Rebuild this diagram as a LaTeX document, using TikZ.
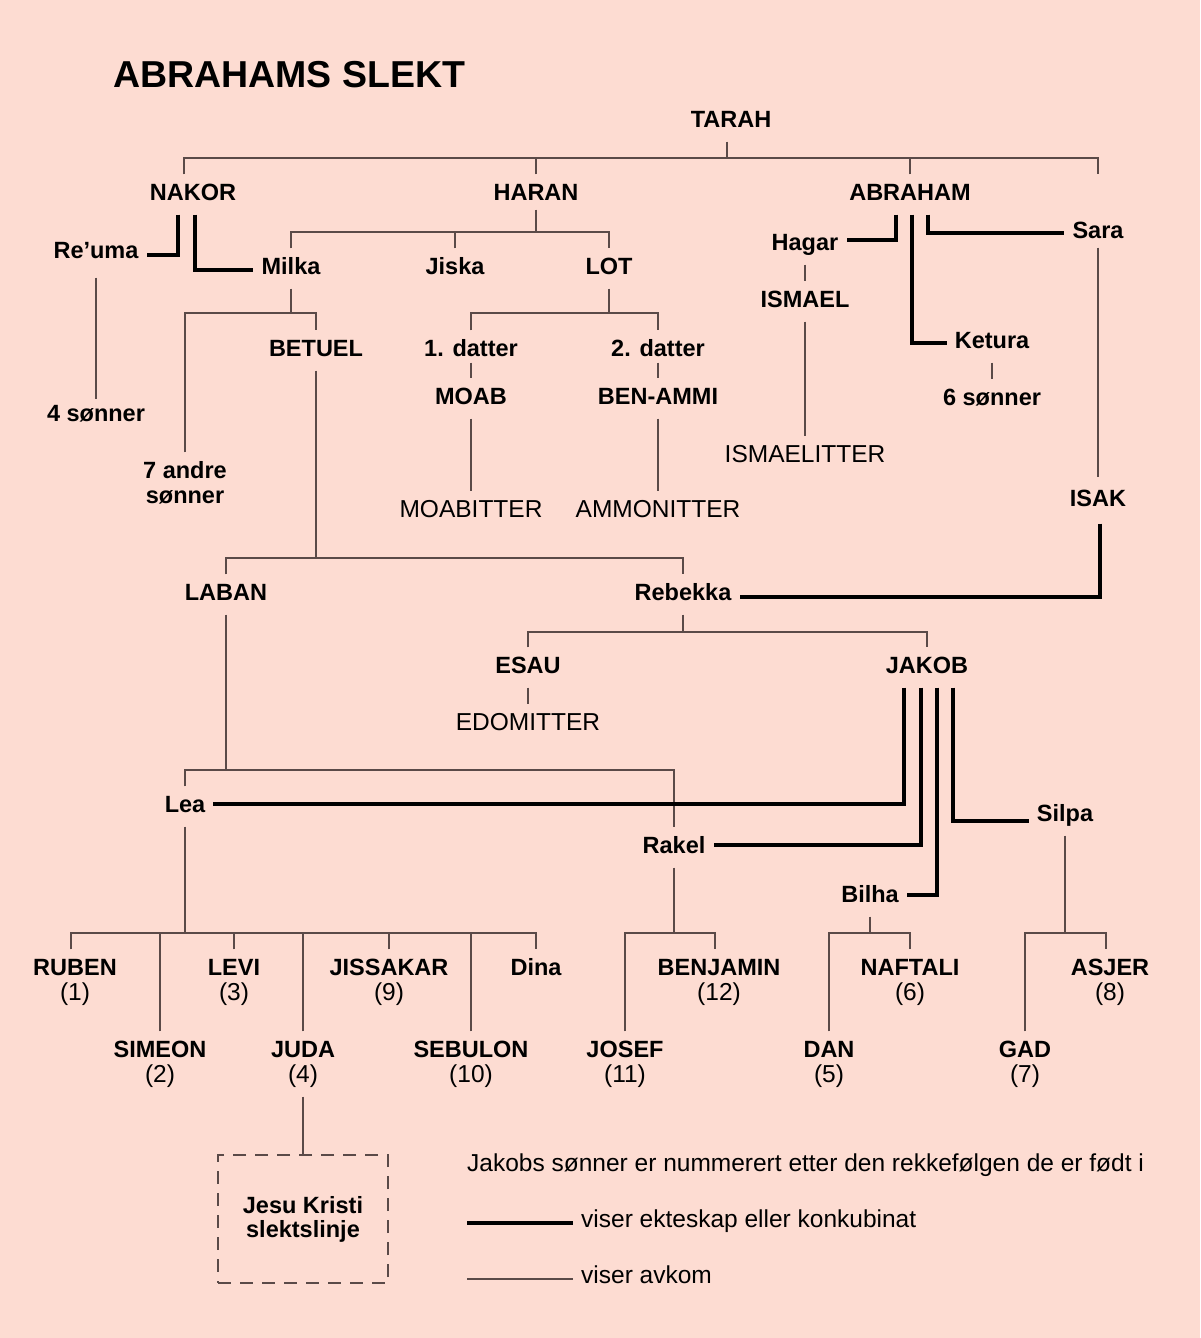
\documentclass[tikz,border=0pt]{standalone}
\usepackage{fontspec}
\setmainfont{Liberation Sans}
\definecolor{bg}{HTML}{FDDCD2}
\definecolor{ln}{HTML}{5A4A48}
\tikzset{
 nm/.style={font=\bfseries\fontsize{23.5}{26}\selectfont, text height=17pt, text depth=6pt, inner xsep=8pt, inner ysep=8.5pt, anchor=base},
 rg/.style={nm, font=\fontsize{24.5}{27}\selectfont},
 desc/.style={draw=ln, line width=1.3pt},
 marr/.style={draw=black, line width=4pt},
 kbox/.style={draw=ln, line width=1.4pt, dash pattern=on 13pt off 9pt, minimum width=170pt, minimum height=128pt, align=center, font=\bfseries\fontsize{23.5}{24}\selectfont},
}
\begin{document}
\begin{tikzpicture}[x=1pt,y=-1pt]
\fill[bg] (0,0) rectangle (1200,1338);
\useasboundingbox (0,0) rectangle (1200,1338);
\node[anchor=base west, inner sep=0, font=\bfseries\fontsize{37.5}{40}\selectfont] (title) at (113,87) {ABRAHAMS SLEKT};

% nodes
\node[nm] (tarah) at (731,127) {TARAH};
\node[nm] (nakor) at (193,200) {NAKOR};
\node[nm] (haran) at (536,200) {HARAN};
\node[nm] (abraham) at (910,200) {ABRAHAM};
\node[nm] (sara) at (1098,238) {Sara};
\node[nm] (reuma) at (96,258) {Re’uma};
\node[nm] (milka) at (291,274) {Milka};
\node[nm] (jiska) at (455,274) {Jiska};
\node[nm] (lot) at (609,274) {LOT};
\node[nm] (hagar) at (805,250) {Hagar};
\node[nm] (ismael) at (805,307) {ISMAEL};
\node[nm] (ketura) at (992,348) {Ketura};
\node[nm] (sonner6) at (992,405) {6 sønner};
\node[nm] (betuel) at (316,356) {BETUEL};
\node[nm] (datter1) at (471,356) {1. datter};
\node[nm] (datter2) at (658,356) {2. datter};
\node[nm] (moab) at (471,404) {MOAB};
\node[nm] (benammi) at (658,404) {BEN-AMMI};
\node[nm] (sonner4) at (96,421) {4 sønner};
\node[nm] (andre7) at (185,478) {7 andre};
\node[nm] (andre7b) at (185,503) {sønner};
\node[rg] (ismaelitter) at (805,462) {ISMAELITTER};
\node[rg] (moabitter) at (471,517) {MOABITTER};
\node[rg] (ammonitter) at (658,517) {AMMONITTER};
\node[nm] (isak) at (1098,506) {ISAK};
\node[nm] (laban) at (226,600) {LABAN};
\node[nm] (rebekka) at (683,600) {Rebekka};
\node[nm] (esau) at (528,673) {ESAU};
\node[nm] (jakob) at (927,673) {JAKOB};
\node[rg] (edomitter) at (528,730) {EDOMITTER};
\node[nm] (lea) at (185,812) {Lea};
\node[nm] (silpa) at (1065,821) {Silpa};
\node[nm] (rakel) at (674,853) {Rakel};
\node[nm] (bilha) at (870,902) {Bilha};

\node[nm] (ruben) at (75,975) {RUBEN};
\node[rg] (rubenn) at (75,1000) {(1)};
\node[nm] (levi) at (234,975) {LEVI};
\node[rg] (levin) at (234,1000) {(3)};
\node[nm] (jissakar) at (389,975) {JISSAKAR};
\node[rg] (jissakarn) at (389,1000) {(9)};
\node[nm] (dina) at (536,975) {Dina};
\node[nm] (benjamin) at (719,975) {BENJAMIN};
\node[rg] (benjaminn) at (719,1000) {(12)};
\node[nm] (naftali) at (910,975) {NAFTALI};
\node[rg] (naftalin) at (910,1000) {(6)};
\node[nm] (asjer) at (1110,975) {ASJER};
\node[rg] (asjern) at (1110,1000) {(8)};
\node[nm] (simeon) at (160,1057) {SIMEON};
\node[rg] (simeonn) at (160,1082) {(2)};
\node[nm] (juda) at (303,1057) {JUDA};
\node[rg] (judan) at (303,1082) {(4)};
\node[nm] (sebulon) at (471,1057) {SEBULON};
\node[rg] (sebulonn) at (471,1082) {(10)};
\node[nm] (josef) at (625,1057) {JOSEF};
\node[rg] (josefn) at (625,1082) {(11)};
\node[nm] (dan) at (829,1057) {DAN};
\node[rg] (dann) at (829,1082) {(5)};
\node[nm] (gad) at (1025,1057) {GAD};
\node[rg] (gadn) at (1025,1082) {(7)};

\node[kbox] (jk) at (303,1219) {Jesu Kristi\\slektslinje};

\node[rg, anchor=base west] (leg1) at (459,1171) {Jakobs sønner er nummerert etter den rekkefølgen de er født i};
\node[rg, anchor=base west] (leg2) at (573,1227) {viser ekteskap eller konkubinat};
\node[rg, anchor=base west] (leg3) at (573,1283) {viser avkom};

% junction coordinates
\coordinate (tb) at (727,158);
\coordinate (sarat) at (1098,174);
\coordinate (hb) at (536,232);
\coordinate (mb) at (291,313);
\coordinate (lb) at (609,313);
\coordinate (bb) at (316,558);
\coordinate (lab) at (226,770);
\coordinate (rb) at (683,632);
\coordinate (leab) at (185,933);
\coordinate (rkb) at (674,933);
\coordinate (bhb) at (870,933);
\coordinate (sb) at (1065,933);
\coordinate (l2a) at (467,1223);
\coordinate (l3a) at (467,1279);

% descent lines
\draw[desc] (tarah.south -| tb) -- (tb);
\draw[desc] ([xshift=-9pt]nakor.north) -- ([xshift=-9pt]nakor.north |- tb) -- (tb -| sarat) -- (sarat);
\draw[desc] (haran.north) -- (haran.north |- tb);
\draw[desc] (abraham.north) -- (abraham.north |- tb);

\draw[desc] ([yshift=-5pt]reuma.south) -- ([yshift=-4pt]sonner4.north);

\draw[desc] ([yshift=5pt]haran.south) -- (hb);
\draw[desc] (milka.north) |- (hb) -| (lot.north);
\draw[desc] (jiska.north) -- (jiska.north |- hb);

\draw[desc] (milka.south) -- (mb);
\draw[desc] (andre7.north) |- (mb) -| (betuel.north);

\draw[desc] (lot.south) -- (lb);
\draw[desc] (datter1.north) |- (lb) -| (datter2.north);
\draw[desc] ([yshift=8pt]datter1.south) -- (moab.north);
\draw[desc] ([yshift=8pt]datter2.south) -- (benammi.north);
\draw[desc] (moab.south) -- (moabitter.north);
\draw[desc] (benammi.south) -- (ammonitter.north);

\draw[desc] (hagar.south) -- (ismael.north);
\draw[desc] (ismael.south) -- (ismaelitter.north);
\draw[desc] (ketura.south) -- (sonner6.north);
\draw[desc] ([yshift=5pt]sara.south) -- ([yshift=3pt]isak.north);

\draw[desc] (betuel.south) -- (bb);
\draw[desc] (laban.north) |- (bb) -| (rebekka.north);

\draw[desc] (laban.south) -- (lab);
\draw[desc] (lea.north) |- (lab) -| (rakel.north);

\draw[desc] (rebekka.south) -- (rb);
\draw[desc] (esau.north) |- (rb) -| (jakob.north);
\draw[desc] (esau.south) -- (edomitter.north);

\draw[desc] (lea.south) -- (leab);
\draw[desc] ([xshift=-4pt]ruben.north) |- (leab) -| (dina.north);
\draw[desc] (simeon.north) -- (simeon.north |- leab);
\draw[desc] (levi.north) -- (levi.north |- leab);
\draw[desc] (juda.north) -- (juda.north |- leab);
\draw[desc] (jissakar.north) -- (jissakar.north |- leab);
\draw[desc] (sebulon.north) -- (sebulon.north |- leab);

\draw[desc] (rakel.south) -- (rkb);
\draw[desc] (josef.north) |- (rkb) -| ([xshift=-4pt]benjamin.north);

\draw[desc] (bilha.south) -- (bhb);
\draw[desc] (dan.north) |- (bhb) -| (naftali.north);

\draw[desc] (silpa.south) -- (sb);
\draw[desc] (gad.north) |- (sb) -| ([xshift=-4pt]asjer.north);

\draw[desc] (judan.south) -- (jk.north);

% marriage lines
\draw[marr] ([xshift=-15pt]nakor.south) |- ([yshift=-2pt]reuma.east);
\draw[marr] ([xshift=2pt]nakor.south) |- ([yshift=-1pt]milka.west);
\draw[marr] ([xshift=-14pt]abraham.south) |- ([yshift=5pt]hagar.east);
\draw[marr] ([xshift=2pt]abraham.south) |- (ketura.west);
\draw[marr] ([xshift=18pt]abraham.south) |- (sara.west);
\draw[marr] ([xshift=2pt,yshift=-3pt]isak.south) |- ([yshift=-2.5pt]rebekka.east);
\draw[marr] ([xshift=-23pt]jakob.south) |- ([yshift=2.5pt]lea.east);
\draw[marr] ([xshift=-6.5pt]jakob.south) |- ([yshift=2.5pt]rakel.east);
\draw[marr] ([xshift=10pt]jakob.south) |- ([yshift=2pt]bilha.east);
\draw[marr] ([xshift=26pt]jakob.south) |- ([yshift=-5.5pt]silpa.west);

% legend samples
\draw[marr] (l2a) -- (l2a -| leg2.west);
\draw[desc] (l3a) -- (l3a -| leg3.west);
\end{tikzpicture}
\end{document}
